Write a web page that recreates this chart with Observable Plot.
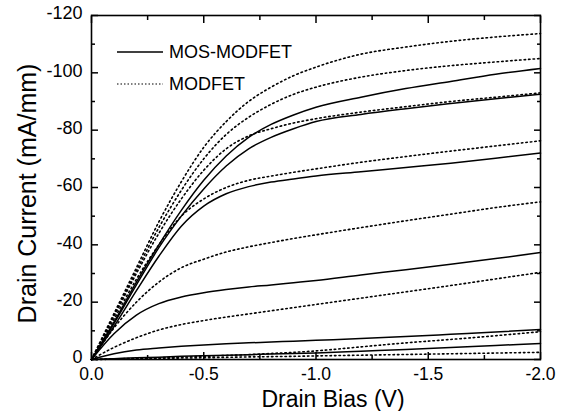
<!DOCTYPE html>
<html><head><meta charset="utf-8">
<script src="https://cdn.jsdelivr.net/npm/d3@7"></script>
<script src="https://cdn.jsdelivr.net/npm/@observablehq/plot@0.6"></script>
<style>
html,body{margin:0;padding:0;background:#fff;}
#wrap{position:relative;width:564px;height:411px;font-family:"Liberation Sans",Arial,sans-serif;}
#legend{position:absolute;left:0;top:0;pointer-events:none;}
</style></head><body><div id="wrap"></div>
<script>
// Drain bias (V)
const biasV = [0, -0.1, -0.2, -0.3, -0.4, -0.5, -0.6, -0.7, -0.8, -0.9, -1.0, -1.2, -1.4, -1.6, -1.8, -2.0];

// MOS-MODFET drain current (mA/mm), solid curves
const mos1 = [0, -13, -27, -40, -52, -62.5, -71, -77.5, -82, -85.3, -88, -91.5, -94.5, -97, -99.5, -101.5];
const mos2 = [0, -12.5, -26, -39, -50, -59.5, -67.5, -73.5, -77.5, -80.5, -83, -85.5, -87.5, -89.3, -91, -92.5];
const mos3 = [0, -11.5, -24, -36, -46.5, -53.5, -57.8, -60.3, -61.9, -63, -64, -65.5, -67, -68.5, -70.2, -72];
const mos4 = [0, -9, -15.5, -19.5, -21.8, -23.3, -24.4, -25.3, -26, -26.8, -27.6, -29.5, -31.3, -33.2, -35.2, -37.3];
const mos5 = [0, -2, -3.3, -4.0, -4.6, -5.1, -5.5, -5.8, -6.1, -6.4, -6.7, -7.3, -8.0, -8.8, -9.6, -10.5];
const mos6 = [0, -0.3, -0.6, -0.8, -1.1, -1.3, -1.5, -1.7, -1.9, -2.1, -2.3, -2.9, -3.5, -4.2, -4.9, -5.6];

// MODFET drain current (mA/mm), dotted curves
const mod1 = [0, -16, -32, -48, -62, -74, -83, -90, -95, -99, -102, -106.5, -109, -111, -112.5, -113.7];
const mod2 = [0, -15.5, -31, -46, -59, -70, -78.5, -84.5, -89, -92.5, -95, -98.5, -100.8, -102.5, -103.8, -105];
const mod3 = [0, -15, -30, -44, -56, -66, -73.5, -78, -80.5, -82.5, -84, -86.3, -88.2, -90, -91.5, -93];
const mod4 = [0, -14, -28, -40, -50, -56, -60, -62.5, -64, -65.3, -66.5, -68.8, -70.8, -72.7, -74.5, -76.3];
const mod5 = [0, -11, -20, -27, -32, -35, -37.5, -39.3, -40.8, -42.2, -43.5, -46, -48.4, -50.7, -53, -55];
const mod6 = [0, -4.2, -7.6, -10.3, -12.2, -13.6, -14.8, -15.9, -17, -18.1, -19.2, -21.4, -23.6, -25.8, -28.1, -30.4];
const mod7 = [0, -0.2, -0.4, -0.6, -0.8, -1.1, -1.4, -1.7, -2.1, -2.5, -3.0, -4.4, -5.8, -7.0, -8.3, -9.7];
const mod8 = [0, -0.1, -0.25, -0.4, -0.5, -0.6, -0.75, -0.9, -1.0, -1.1, -1.25, -1.5, -1.75, -2.0, -2.25, -2.5];

const seriesNames = ["MOS-MODFET", "MODFET"];
const xTitle = "Drain Bias (V)";
const yTitle = "Drain Current (mA/mm)";
const xTicksMajor = [0, -0.5, -1.0, -1.5, -2.0];
const xTicksMinor = [-0.25, -0.75, -1.25, -1.75];
const yTicksMajor = [0, -20, -40, -60, -80, -100, -120];
const yTicksMinor = [-10, -30, -50, -70, -90, -110];

function toRows(list, device) {
  const rows = [];
  list.forEach((s, i) => s.forEach((v, j) => rows.push({device, curve: device + i, V: biasV[j], I: v})));
  return rows;
}
const mosRows = toRows([mos1, mos2, mos3, mos4, mos5, mos6], seriesNames[0]);
const modRows = toRows([mod1, mod2, mod3, mod4, mod5, mod6, mod7, mod8], seriesNames[1]);

const FONT = "Liberation Sans, Arial, sans-serif";
const chart = Plot.plot({
  width: 564, height: 411,
  marginLeft: 91, marginRight: 24, marginTop: 15, marginBottom: 52,
  style: {fontFamily: FONT, background: "white", color: "black", overflow: "visible"},
  x: {domain: [0, -2]},
  y: {domain: [0, -120]},
  marks: [
    Plot.line(mosRows, {x: "V", y: "I", z: "curve", stroke: "black", strokeWidth: 1.5, curve: "monotone-x"}),
    Plot.line(modRows, {x: "V", y: "I", z: "curve", stroke: "black", strokeWidth: 1.6, strokeDasharray: "1.5,3", curve: "monotone-x"}),
    Plot.frame({stroke: "black", strokeWidth: 1.6}),
    // inward ticks
    Plot.axisX(xTicksMajor, {anchor: "bottom", tickSize: 7, dy: -7, fill: "none", label: null, strokeWidth: 1.5}),
    Plot.axisX(xTicksMinor, {anchor: "bottom", tickSize: 4, dy: -4, fill: "none", label: null, strokeWidth: 1.5}),
    Plot.axisX(xTicksMajor, {anchor: "top", tickSize: 7, dy: 7, fill: "none", label: null, strokeWidth: 1.5}),
    Plot.axisX(xTicksMinor, {anchor: "top", tickSize: 4, dy: 4, fill: "none", label: null, strokeWidth: 1.5}),
    Plot.axisY(yTicksMajor, {anchor: "left", tickSize: 7, dx: 7, fill: "none", label: null, strokeWidth: 1.5}),
    Plot.axisY(yTicksMinor, {anchor: "left", tickSize: 4, dx: 4, fill: "none", label: null, strokeWidth: 1.5}),
    Plot.axisY(yTicksMajor, {anchor: "right", tickSize: 7, dx: -7, fill: "none", label: null, strokeWidth: 1.5}),
    Plot.axisY(yTicksMinor, {anchor: "right", tickSize: 4, dx: -4, fill: "none", label: null, strokeWidth: 1.5}),
    // tick labels
    Plot.axisX(xTicksMajor, {anchor: "bottom", tickSize: 0, tickPadding: 8, tickFormat: d => d.toFixed(1), fontSize: 17.5, label: null, fill: "black"}),
    Plot.axisY(yTicksMajor, {anchor: "left", tickSize: 0, tickPadding: 9, tickFormat: d => String(d), fontSize: 18, dy: -2, label: null, fill: "black"}),
    // axis titles
    Plot.text([xTitle], {text: d => d, frameAnchor: "bottom", textAnchor: "middle", dx: 17, dy: 40, fontSize: 23, lineAnchor: "middle", fill: "black"}),
    Plot.text([yTitle], {text: d => d, frameAnchor: "left", textAnchor: "middle", rotate: -90, dx: -64, dy: 6, fontSize: 25, lineAnchor: "middle", fill: "black"})
  ]
});
const wrap = document.getElementById("wrap");
wrap.appendChild(chart);

// legend overlay
const ns = "http://www.w3.org/2000/svg";
const leg = document.createElementNS(ns, "svg");
leg.setAttribute("id", "legend");
leg.setAttribute("width", 564);
leg.setAttribute("height", 411);
const legendRows = [
  {name: seriesNames[0], y: 52, dash: null},
  {name: seriesNames[1], y: 84, dash: "1.5,2"}
];
legendRows.forEach(r => {
  const l = document.createElementNS(ns, "line");
  l.setAttribute("x1", 117); l.setAttribute("x2", 163);
  l.setAttribute("y1", r.y); l.setAttribute("y2", r.y);
  l.setAttribute("stroke", "black");
  l.setAttribute("stroke-width", r.dash ? 1.2 : 1.5);
  if (r.dash) l.setAttribute("stroke-dasharray", r.dash);
  leg.appendChild(l);
  const t = document.createElementNS(ns, "text");
  t.setAttribute("x", 169); t.setAttribute("y", r.y);
  t.setAttribute("dy", "0.35em");
  t.setAttribute("font-size", 18);
  t.setAttribute("font-family", FONT);
  t.textContent = r.name;
  leg.appendChild(t);
});
wrap.appendChild(leg);
</script>
</body></html>
